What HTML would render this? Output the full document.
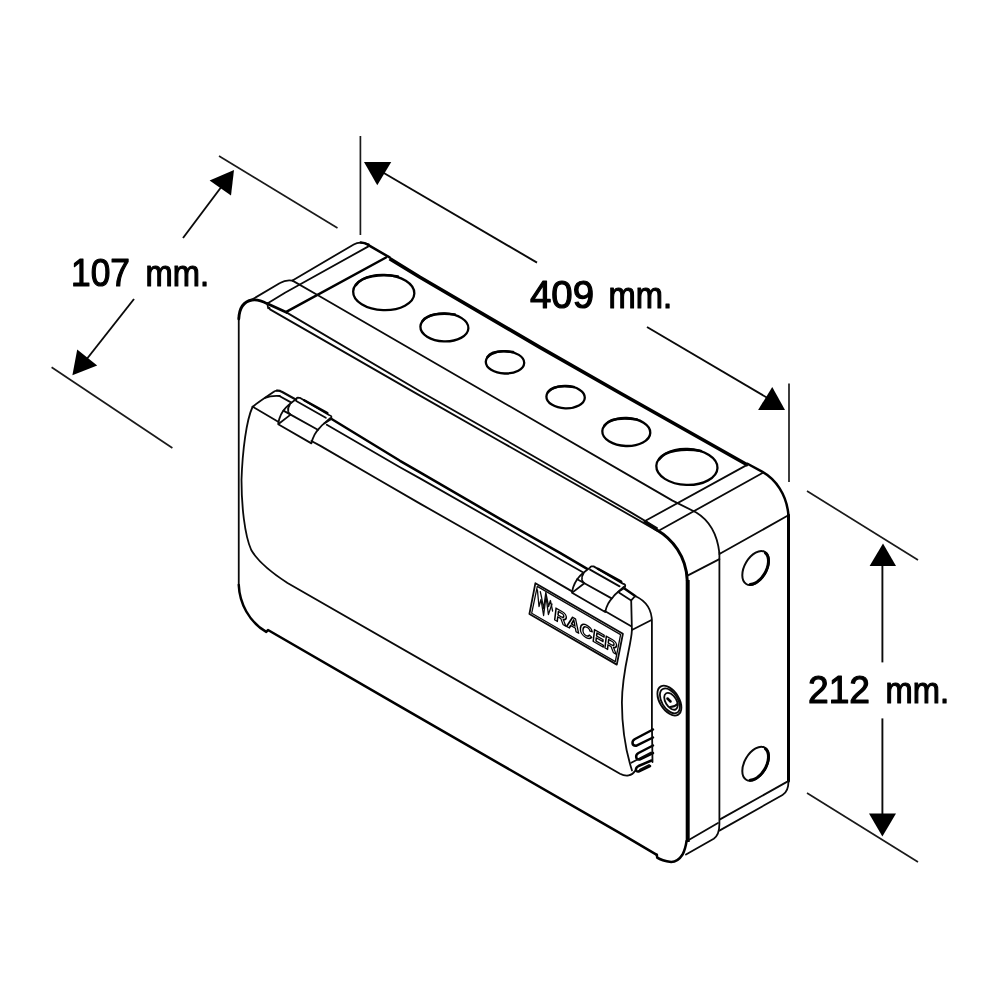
<!DOCTYPE html>
<html lang="en">
<head>
<meta charset="utf-8">
<title>Racer enclosure dimensions</title>
<style>
  html, body { margin: 0; padding: 0; background: #ffffff; }
  body { width: 1000px; height: 1000px; overflow: hidden; }
  svg { display: block; will-change: transform; filter: blur(0.3px); }
  .n { fill: none; stroke: #0a0a0a; stroke-width: 1.8; stroke-linecap: round; stroke-linejoin: round; }
  .k { fill: none; stroke: #000; stroke-width: 2.5; stroke-linecap: round; stroke-linejoin: round; }
  .h { fill: none; stroke: #000; stroke-width: 2.3; }
  .kk { fill: none; stroke: #000; stroke-width: 3.6; stroke-linecap: butt; stroke-linejoin: round; }
  .d { fill: none; stroke: #0a0a0a; stroke-width: 1.9; stroke-linecap: butt; }
  .e { fill: none; stroke: #1a1a1a; stroke-width: 1.7; stroke-linecap: butt; }
  .a { fill: #000; stroke: none; }
  .t { font-family: "Liberation Sans", sans-serif; font-size: 39px; fill: #000; stroke: #000; stroke-width: 1.2; stroke-linejoin: round; }
  .logo { font-family: "Liberation Sans", sans-serif; font-weight: bold; font-size: 17px; fill: #fff; stroke: #000; stroke-width: 1.4; stroke-linejoin: round; paint-order: normal; }
</style>
</head>
<body>
<svg width="1000" height="1000" viewBox="0 0 1000 1000">
<rect x="0" y="0" width="1000" height="1000" fill="#ffffff"/>

<!-- ================= DIMENSIONS ================= -->
<g id="dims">
  <!-- 107 mm -->
  <line class="e" x1="219" y1="156" x2="337.5" y2="228"/>
  <line class="e" x1="51.6" y1="367.2" x2="172.4" y2="448"/>
  <line class="d" x1="183" y1="238" x2="222" y2="186"/>
  <line class="d" x1="134" y1="299" x2="86" y2="360"/>
  <polygon class="a" points="234,170 209.6,180.4 231,195.6"/>
  <polygon class="a" points="72.4,375.2 77.2,349.6 97.2,365.6"/>
  <text class="t" y="286"><tspan x="71" textLength="59" lengthAdjust="spacingAndGlyphs">107</tspan> <tspan x="145.5" textLength="63.5" lengthAdjust="spacingAndGlyphs" font-size="36.5">mm.</tspan></text>

  <!-- 409 mm -->
  <line class="e" x1="360.4" y1="136" x2="360.4" y2="235"/>
  <line class="e" x1="789" y1="383.5" x2="789" y2="482"/>
  <line class="d" x1="383" y1="172.5" x2="537" y2="262.6"/>
  <line class="d" x1="647" y1="327" x2="768" y2="398.3"/>
  <polygon class="a" points="364,161.9 391.25,161.9 377.25,185.25"/>
  <polygon class="a" points="772.25,386.9 758.1,410 785,410"/>
  <text class="t" y="307.6"><tspan x="530" textLength="64" lengthAdjust="spacingAndGlyphs">409</tspan> <tspan x="608.5" textLength="63.5" lengthAdjust="spacingAndGlyphs" font-size="36.5">mm.</tspan></text>

  <!-- 212 mm -->
  <line class="e" x1="807" y1="491" x2="918" y2="560"/>
  <line class="e" x1="807" y1="793" x2="918" y2="862"/>
  <line class="d" x1="882.4" y1="560" x2="882.4" y2="662.4"/>
  <line class="d" x1="882.4" y1="718.4" x2="882.4" y2="818"/>
  <polygon class="a" points="883,543.6 869.6,566 896,566"/>
  <polygon class="a" points="869,813.6 896,813.6 882.4,836.4"/>
  <text class="t" y="703"><tspan x="808" textLength="62" lengthAdjust="spacingAndGlyphs">212</tspan> <tspan x="885.5" textLength="63.5" lengthAdjust="spacingAndGlyphs" font-size="36.5">mm.</tspan></text>
</g>

<!-- ================= BOX ================= -->
<g id="box">
  <!-- front face outline -->
  <path class="n" d="M238.75,317.5 L238.75,585"/>
  <path class="k" style="stroke-width:2.8" d="M238.800,319 C239.200,308.500 243.500,301.500 252,300 C257,299.300 262,300.800 267,303.600 L286.800,312.600"/>
  <path class="n" d="M267.200,303 L268.200,308.400"/>
  <path class="k" d="M238.75,585 C239.500,603 249,622 266.250,631.900 L268,630 L400,706.400 L620,833.200 L656.800,854.800"/>
  <path class="k" d="M656.800,854.800 L657.200,857.600 C660,859.500 664,861 671.200,862 C676,862 680,858.500 682.400,854.800 C684.500,851 685.800,846 686.600,841"/>
  <path class="kk" style="stroke-width:4" d="M687.700,842 L687.700,580"/>
  <path class="k" style="stroke-width:3" d="M645,521.500 L656.900,530 C672,538.700 686.300,556 687.200,580"/>
  <!-- front face top edge (double) -->
    <path class="n" d="M286.8,312.6 L420,391.2 L500,436.8 L630,511.9 L657,528"/>
  <path class="n" d="M269.4,307.8 L270,309.400 L420,395.600 L500,441.2 L630,515.2 L657,530.6"/>

  <!-- top face: left cap -->
  <path class="n" d="M252,299.600 L280,283 C284,280.500 288,279.800 292.500,280.600"/>
  <path class="n" d="M292.5,280.6 L353.75,244.4 C357,242.4 362,241.6 368.75,244.4"/>
  <path class="n" d="M268.200,303 L285,292.800 L368,246.600"/>
  <path class="k" d="M286.25,311.9 L386,257.5"/>
  <path class="n" d="M292.5,280.6 L317.5,295"/>
  <!-- top face front line -->
  <path class="n" d="M317.5,295 L672.5,500.6 L696.25,512.5 C707,519 717,532 719.4,553"/>
  <!-- back top edge -->
  <path class="k" d="M360.800,242.500 C363.500,242.500 366,243.400 368,244.800 L389.600,257.400"/>
  <path class="kk" d="M389.6,258.6 L420,277.3 L540,347.4 L620,393 L748,465.3"/>
  <path class="k" d="M747.5,463.75 L762.5,471.9 C775,479 787,494 788.5,516"/>
  <!-- right cap lines -->
  <path class="n" d="M748,464.4 L645,521"/>
  <path class="n" d="M762.5,473 L660,530"/>
  <path class="n" d="M787.500,515.800 L719.400,554"/>
  <path class="n" d="M719.400,559.100 L687.500,575.600"/>

  <!-- side face -->
  <path class="k" style="stroke-width:3" d="M788.500,515 L788.500,781"/>
  <path class="n" d="M788.5,781 C788.5,788 786,793 782.5,795 L719.4,830.6"/>
  <path class="n" d="M786.9,781.9 L720,819.4"/>
  <path class="n" d="M719.4,552.5 L719.4,824 C719.4,832 717,836.5 713.75,838.75 L686,854.5"/>
  <path class="n" d="M688.75,840 L718,823"/>

  <!-- top holes -->
  <g id="holes">
    <ellipse class="h" cx="383.75" cy="292.5" rx="30.6" ry="17.6" transform="rotate(2 383.75 292.5)"/>
    <ellipse class="h" cx="444.4" cy="327.4" rx="24" ry="14" transform="rotate(2 444.4 327.4)"/>
    <ellipse class="h" cx="505" cy="362.3" rx="19.2" ry="11.2" transform="rotate(2 505 362.3)"/>
    <ellipse class="h" cx="565.6" cy="397.1" rx="19.2" ry="11.2" transform="rotate(2 565.6 397.1)"/>
    <ellipse class="h" cx="626.3" cy="432" rx="24" ry="14" transform="rotate(2 626.3 432)"/>
    <ellipse class="h" cx="686.9" cy="466.9" rx="30.6" ry="18" transform="rotate(2 686.9 466.9)"/>
    <path class="k" d="M356,285 C362,276 380,273.5 398,276.5"/>
    <path class="k" d="M422.5,321 C427,314.5 440,312.5 455,314.5"/>
    <path class="k" d="M487.5,357 C491,351.500 502,350.500 513,352"/>
    <path class="k" d="M548,392 C552,386.500 563,385.500 574,387"/>
    <path class="k" d="M604.500,425.500 C609,419 622,417.500 637,419.500"/>
    <path class="k" d="M659,459.500 C665,450.500 683,448 701,451"/>
  </g>

  <!-- side holes -->
  <g id="sideholes">
    <circle class="n" r="13.3" transform="matrix(1,-0.55,0,1.15,755.6,568)" style="stroke-width:2" vector-effect="non-scaling-stroke"/>
    <circle class="n" r="13.3" transform="matrix(1,-0.55,0,1.15,755.6,763.75)" style="stroke-width:2" vector-effect="non-scaling-stroke"/>
    <path class="k" style="stroke-width:3" d="M765.48,553.03 L766.89,554.61 L767.88,556.70 L768.41,559.20 L768.46,562.03 L768.04,565.09 L767.15,568.25 L765.83,571.40 L764.14,574.43 L762.12,577.22 L759.86,579.66 L757.44,581.67 L754.96,583.17 L752.49,584.11 L750.15,584.44"/>
    <path class="k" style="stroke-width:3" d="M765.48,748.78 L766.89,750.36 L767.88,752.45 L768.41,754.95 L768.46,757.78 L768.04,760.84 L767.15,764.00 L765.83,767.15 L764.14,770.18 L762.12,772.97 L759.86,775.41 L757.44,777.42 L754.96,778.92 L752.49,779.86 L750.15,780.19"/>
  </g>
</g>

<!-- ================= DOOR ================= -->
<defs>
  <g id="hinge">
    <!-- outline, origin = bottom-left corner -->
    <path class="n" fill="#fff" d="M0,0 C0.300,-2 0.600,-3.800 1.200,-5.600 C2.200,-8.600 3.400,-11 5.200,-13.600 C6.800,-15.800 8.600,-17.800 10.800,-19.600 L18,-25.200 C18.400,-26 18.800,-26.400 19.500,-26.500 L21.600,-26.400 L50.800,-9.200 C52.600,-8.600 53.400,-8 53.200,-7.200 C53.200,-6 52.900,-5.300 52.400,-4.800 L46,-0.800 C44.200,0.600 42.600,2.200 41.200,4 C39.400,6 37.800,8 36.400,10.400 C34.800,13.400 33.800,16.200 33.200,19.200 Z"/>
    <path class="n" d="M11.600,-19.600 C10,-17.400 9.600,-15 10,-12.800 C10.400,-11.400 11.200,-10.400 12.400,-9.600 L39.600,5.600"/>
    <path class="n" d="M18,-23.200 L47.600,-6.400"/>
    <path class="n" d="M5.200,-13.600 L12.400,-9.600 L0.600,-0.400"/>
    <path class="k" style="stroke-width:2.4" d="M26,-24 L49.200,-11.200"/>
    <path class="n" d="M46,-0.800 L52,-6"/>
  </g>
</defs>
<g id="door">
  <!-- left curve + bottom edge -->
  <path class="n" d="M277,390.6 C275.500,390.700 274.500,391.200 273.800,391.800 L265,397.800 C261,400.500 256,404 252.500,407 C246.500,420 242.500,450 241.500,480 C241.500,505 244.500,535 251.250,550 C257,560 266,569 287.500,583 L620,773.750 C626,777 632,776 635,771"/>
  <path class="n" d="M279.800,396 C274,395.600 269,396.200 265,397.800"/>
  <!-- top-left short lines -->
  <path class="n" style="stroke-width:2.2" d="M277,390.600 C279,390.400 280.600,391 281.800,391.800 L296.200,399.800"/>
  <path class="n" d="M279.800,396.200 L291.400,402.600"/>
  <!-- front top edge -->
  <path class="n" d="M252.500,406.600 L278.200,421.800"/>
  <path class="n" d="M311.400,441 L320,445.600 L379.200,480 L420,503.600 L484,540 L560,584.400 L572,591.400"/>
  <path class="n" d="M604.800,611 L631.200,626.200"/>
  <!-- top lines between hinges -->
  <path class="k" style="stroke-width:2.5" d="M331.200,418.800 L400,460.800 L420,472.400 L500,518.800 L560,552.800 L587.200,568.800"/>
  <path class="n" d="M326.800,424.800 L400,467.200 L420,478.400 L500,524 L560,559.200 L582.400,572"/>
  <!-- right end -->
  <path class="k" style="stroke-width:2.5" d="M624.800,588.800 L635.200,596"/>
  <path class="n" d="M635.200,596 C645,600.500 652,609 651.900,622 L651.900,729"/>
  <path class="n" d="M619.200,592.800 L631.200,600.400 L635.200,596"/>
  <path class="n" d="M631.200,600.400 L631.900,630 L651.500,620"/>
  <path class="n" d="M631.900,630 C631.500,645 622,670 621.900,702.500 C622,730 627,755 632,770.500"/>

  <use href="#hinge" x="278.200" y="424.200"/>
  <use href="#hinge" x="572" y="592.800"/>

  <!-- grip slots -->
  <g id="grip">
    <path class="k" d="M653,729.500 L635,739 C631.500,741 631.500,746 636,745.800 L653,737.500"/>
    <path class="k" d="M653,745.500 L638.500,753 C635,755 635.500,760 639.500,759.500 L653,753"/>
    <path class="k" d="M651.500,760.500 L638.500,766 C635,768 635,772 638.500,771.500 L650,766"/>
    <path class="n" d="M640,769.5 L649,765"/>
    <path class="n" d="M652,729 L652.5,762"/>
    <path class="n" d="M631.250,762.700 L651,752.500"/>
  </g>

  <!-- lock -->
  <g id="lock">
    <circle class="n" r="12" transform="matrix(1,0.578,0,1.1,669.4,700.6)" vector-effect="non-scaling-stroke"/>
    <circle class="n" r="10" transform="matrix(1,0.578,0,1.1,669.9,700.9)" vector-effect="non-scaling-stroke"/>
    <circle class="n" r="6.8" transform="matrix(1,0.578,0,1.1,671,701.3)" vector-effect="non-scaling-stroke"/>
    <path class="k" d="M667.500,698.500 L670.500,701.500"/>
    <path class="n" d="M670,707 C673,707 675.500,706 677.500,704"/>
  </g>

  <!-- logo plate -->
  <g id="logo">
    <polygon class="n" points="535.4,583.2 622.9,633.8 616.8,664.6 529.4,614" fill="#fff"/>
    <polygon class="n" style="stroke-width:1.3" points="537.300,586.400 620.600,634.600 615.300,661.600 531.700,613.200"/>
    <path class="n" style="stroke-width:1.3" d="M537.400,589.800 L539,606.500 L541,599.500 L543.600,615.500 L546,596.500 L548.400,614.500 L552,604"/>
    <path class="n" style="stroke-width:1.3" d="M540.300,591.600 L541.500,597 L543.600,608.500 L545.800,592.500 L548.600,606.500 L550.400,600.500 L552.600,611"/>
    <text class="logo" transform="matrix(1,0.56,-0.12,1,553.5,619.2)" textLength="63" lengthAdjust="spacingAndGlyphs">RACER</text>
  </g>
</g>
</svg>
</body>
</html>
